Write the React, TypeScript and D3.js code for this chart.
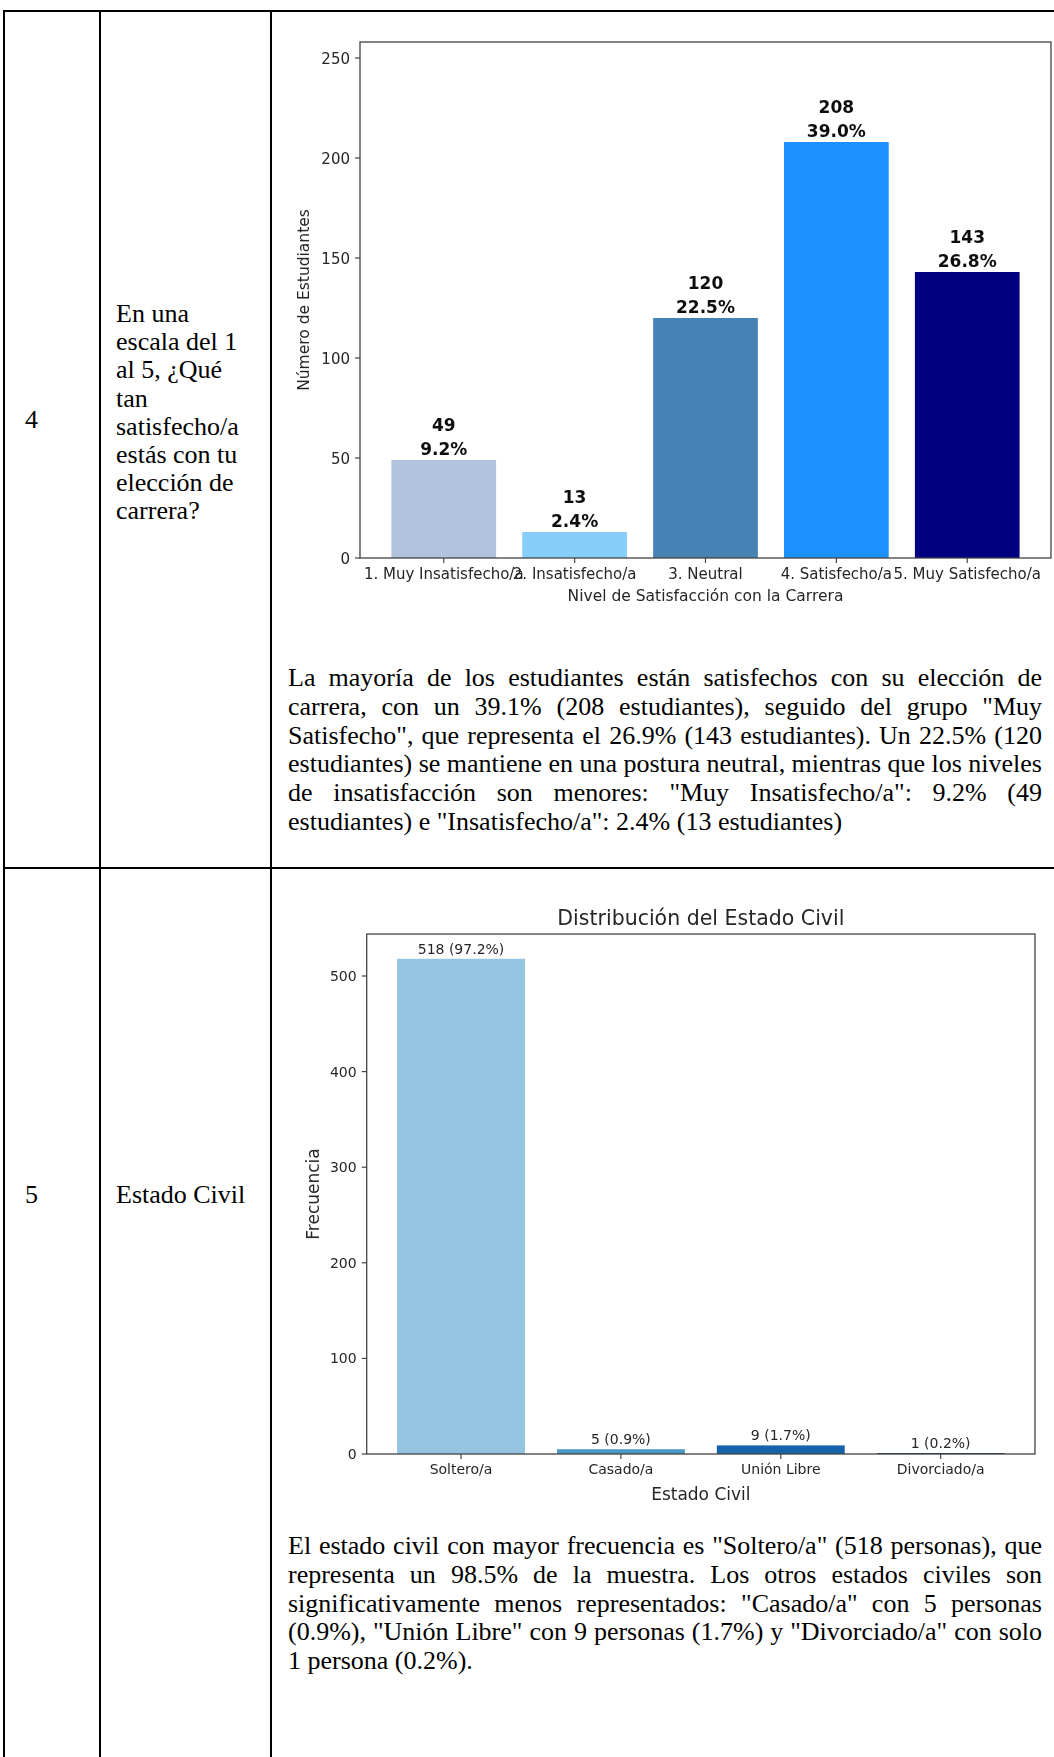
import React from 'react';
import * as d3 from 'd3';

// ---- Data: satisfaction with chosen career ----
const satisfactionLevels = [
  '1. Muy Insatisfecho/a',
  '2. Insatisfecho/a',
  '3. Neutral',
  '4. Satisfecho/a',
  '5. Muy Satisfecho/a',
];
const satisfactionCounts = [49, 13, 120, 208, 143];
const satisfactionColors = ['#B0C4DE', '#87CEFA', '#4682B4', '#1E90FF', '#000080'];
const satisfactionTicks = [0, 50, 100, 150, 200, 250];

// ---- Data: marital status ----
const civilStatus = ['Soltero/a', 'Casado/a', 'Unión Libre', 'Divorciado/a'];
const civilCounts = [518, 5, 9, 1];
const civilColors = ['#94c4df', '#4a98c9', '#1764ab', '#08306b'];
const civilTicks = [0, 100, 200, 300, 400, 500];

// ---- Table text ----
const questionLines = [
  'En una',
  'escala del 1',
  'al 5, ¿Qué',
  'tan',
  'satisfecho/a',
  'estás con tu',
  'elección de',
  'carrera?',
];
const satisfactionParagraph = [
  'La mayoría de los estudiantes están satisfechos con su elección de',
  'carrera, con un 39.1% (208 estudiantes), seguido del grupo "Muy',
  'Satisfecho", que representa el 26.9% (143 estudiantes). Un 22.5% (120',
  'estudiantes) se mantiene en una postura neutral, mientras que los niveles',
  'de insatisfacción son menores: "Muy Insatisfecho/a": 9.2% (49',
  'estudiantes) e "Insatisfecho/a": 2.4% (13 estudiantes)',
];
const civilParagraph = [
  'El estado civil con mayor frecuencia es "Soltero/a" (518 personas), que',
  'representa un 98.5% de la muestra. Los otros estados civiles son',
  'significativamente menos representados: "Casado/a" con 5 personas',
  '(0.9%), "Unión Libre" con 9 personas (1.7%) y "Divorciado/a" con solo',
  '1 persona (0.2%).',
];

const SERIF = "'Liberation Serif', 'Times New Roman', serif";
const SANS = "'DejaVu Sans', 'Liberation Sans', sans-serif";
const TEXT_SIZE = 26;
const LINE_STEP = 28.8;

const measureCtx = document.createElement('canvas').getContext('2d');
function measure(text: string, font: string): number {
  if (!measureCtx) return text.length * 10;
  measureCtx.font = font;
  return measureCtx.measureText(text).width;
}

// Justified block: every line but the last is stretched to the full width.
function JustifiedParagraph({ lines, x, width, y0 }: { lines: string[]; x: number; width: number; y0: number }) {
  const font = `${TEXT_SIZE}px 'Liberation Serif'`;
  return (
    <g fontFamily={SERIF} fontSize={TEXT_SIZE} fill="#000">
      {lines.map((line, i) => {
        const y = y0 + i * LINE_STEP;
        if (i === lines.length - 1) {
          return (
            <text key={i} x={x} y={y}>
              {line}
            </text>
          );
        }
        const words = line.split(' ');
        const widths = words.map((w) => measure(w, font));
        const gap = (width - d3.sum(widths)) / (words.length - 1);
        const starts: number[] = [];
        let cx = x;
        widths.forEach((w) => {
          starts.push(cx);
          cx += w + gap;
        });
        return (
          <text key={i} y={y}>
            {words.map((w, j) => (
              <tspan key={j} x={starts[j]}>
                {w}
              </tspan>
            ))}
          </text>
        );
      })}
    </g>
  );
}

function SatisfactionChart() {
  const left = 360;
  const right = 1051;
  const top = 42;
  const bottom = 558;
  const x = d3
    .scaleBand<string>()
    .domain(satisfactionLevels)
    .range([left, right])
    .paddingInner(0.2)
    .paddingOuter(0.24);
  const yMax = d3.max(satisfactionCounts)! + 50;
  const y = d3.scaleLinear().domain([0, yMax]).range([bottom, top]);
  const total = d3.sum(satisfactionCounts);
  const ink = '#262626';

  return (
    <g fontFamily={SANS} filter="url(#soft)">
      {satisfactionLevels.map((lvl, i) => {
        const v = satisfactionCounts[i];
        const cx = x(lvl)! + x.bandwidth() / 2;
        return (
          <g key={lvl}>
            <rect x={x(lvl)} y={y(v)} width={x.bandwidth()} height={y(0) - y(v)} fill={satisfactionColors[i]} />
            <text x={cx} y={y(v) - 29} textAnchor="middle" fontSize={17} fontWeight="bold" fill="#111">
              {v}
            </text>
            <text x={cx} y={y(v) - 5} textAnchor="middle" fontSize={17} fontWeight="bold" fill="#111">
              {((v / total) * 100).toFixed(1)}%
            </text>
          </g>
        );
      })}
      <rect x={left} y={top} width={right - left} height={bottom - top} fill="none" stroke="#444" strokeWidth={1.3} />
      {satisfactionTicks.map((t) => (
        <g key={t}>
          <line x1={left - 5} x2={left} y1={y(t)} y2={y(t)} stroke="#444" strokeWidth={1.2} />
          <text x={left - 10} y={y(t) + 5.5} textAnchor="end" fontSize={15} fill={ink}>
            {t}
          </text>
        </g>
      ))}
      {satisfactionLevels.map((lvl) => {
        const cx = x(lvl)! + x.bandwidth() / 2;
        return (
          <g key={lvl}>
            <line x1={cx} x2={cx} y1={bottom} y2={bottom + 5} stroke="#444" strokeWidth={1.2} />
            <text x={cx} y={bottom + 21} textAnchor="middle" fontSize={15} fill={ink}>
              {lvl}
            </text>
          </g>
        );
      })}
      <text x={(left + right) / 2} y={bottom + 43} textAnchor="middle" fontSize={15.5} fill={ink}>
        Nivel de Satisfacción con la Carrera
      </text>
      <text
        transform={`translate(309,${(top + bottom) / 2}) rotate(-90)`}
        textAnchor="middle"
        fontSize={15.5}
        fill={ink}
      >
        Número de Estudiantes
      </text>
    </g>
  );
}

function CivilChart() {
  const left = 366.7;
  const right = 1035;
  const bottom = 1454;
  const yMax = d3.max(civilCounts)! * 1.05;
  const pxPerUnit = 0.956;
  const top = bottom - yMax * pxPerUnit;
  const x = d3
    .scaleBand<string>()
    .domain(civilStatus)
    .range([left, right])
    .paddingInner(0.2)
    .paddingOuter(0.19);
  const y = d3.scaleLinear().domain([0, yMax]).range([bottom, top]);
  const total = d3.sum(civilCounts);
  const ink = '#262626';

  return (
    <g fontFamily={SANS} filter="url(#soft)">
      <text x={(left + right) / 2} y={top - 9} textAnchor="middle" fontSize={20.5} fill={ink}>
        Distribución del Estado Civil
      </text>
      {civilStatus.map((s, i) => {
        const v = civilCounts[i];
        const cx = x(s)! + x.bandwidth() / 2;
        return (
          <g key={s}>
            <rect x={x(s)} y={y(v)} width={x.bandwidth()} height={y(0) - y(v)} fill={civilColors[i]} />
            <text x={cx} y={y(v) - 5} textAnchor="middle" fontSize={14} fill={ink}>
              {`${v} (${((v / total) * 100).toFixed(1)}%)`}
            </text>
          </g>
        );
      })}
      <rect x={left} y={top} width={right - left} height={bottom - top} fill="none" stroke="#444" strokeWidth={1.3} />
      {civilTicks.map((t) => (
        <g key={t}>
          <line x1={left - 5} x2={left} y1={y(t)} y2={y(t)} stroke="#444" strokeWidth={1.2} />
          <text x={left - 10} y={y(t) + 5} textAnchor="end" fontSize={14} fill={ink}>
            {t}
          </text>
        </g>
      ))}
      {civilStatus.map((s) => {
        const cx = x(s)! + x.bandwidth() / 2;
        return (
          <g key={s}>
            <line x1={cx} x2={cx} y1={bottom} y2={bottom + 5} stroke="#444" strokeWidth={1.2} />
            <text x={cx} y={bottom + 20} textAnchor="middle" fontSize={14} fill={ink}>
              {s}
            </text>
          </g>
        );
      })}
      <text x={(left + right) / 2} y={bottom + 46} textAnchor="middle" fontSize={17} fill={ink}>
        Estado Civil
      </text>
      <text
        transform={`translate(319,${(top + bottom) / 2}) rotate(-90)`}
        textAnchor="middle"
        fontSize={17}
        fill={ink}
      >
        Frecuencia
      </text>
    </g>
  );
}

export default function App() {
  const W = 1054;
  const H = 1757;
  const rowTop = 11;
  const rowSplit = 868;
  const col1 = 100;
  const col2 = 271;
  const leftEdge = 4;

  return (
    <svg
      width={W}
      height={H}
      viewBox={`0 0 ${W} ${H}`}
      style={{ position: 'absolute', left: 0, top: 0, background: '#fff' }}
    >
      <defs>
        <filter id="soft" x="-5%" y="-5%" width="110%" height="110%">
          <feGaussianBlur stdDeviation="0.45" />
        </filter>
      </defs>
      <rect x={0} y={0} width={W} height={H} fill="#fff" />

      {/* table grid */}
      <g stroke="#000" strokeWidth={2}>
        <line x1={leftEdge - 1} x2={W} y1={rowTop} y2={rowTop} />
        <line x1={leftEdge - 1} x2={W} y1={rowSplit} y2={rowSplit} />
        <line x1={leftEdge} x2={leftEdge} y1={rowTop} y2={H} />
        <line x1={col1} x2={col1} y1={rowTop} y2={H} />
        <line x1={col2} x2={col2} y1={rowTop} y2={H} />
      </g>

      {/* row 4 */}
      <g fontFamily={SERIF} fontSize={TEXT_SIZE} fill="#000">
        <text x={25} y={428}>
          4
        </text>
        {questionLines.map((l, i) => (
          <text key={i} x={116} y={322 + i * 28.2}>
            {l}
          </text>
        ))}
      </g>
      <SatisfactionChart />
      <JustifiedParagraph lines={satisfactionParagraph} x={288} width={754} y0={686} />

      {/* row 5 */}
      <g fontFamily={SERIF} fontSize={TEXT_SIZE} fill="#000">
        <text x={25} y={1203}>
          5
        </text>
        <text x={116} y={1203}>
          Estado Civil
        </text>
      </g>
      <CivilChart />
      <JustifiedParagraph lines={civilParagraph} x={288} width={754} y0={1554} />
    </svg>
  );
}
